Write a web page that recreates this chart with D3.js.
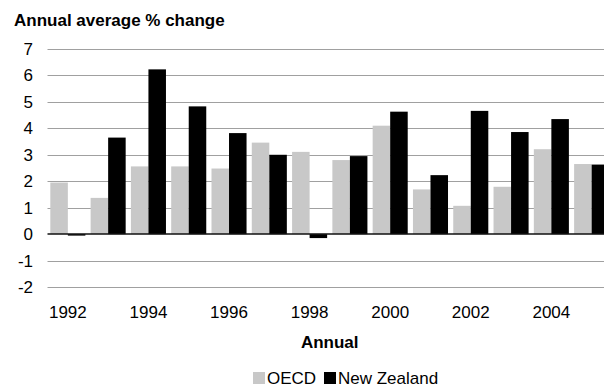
<!DOCTYPE html>
<html>
<head>
<meta charset="utf-8">
<script src="https://cdn.jsdelivr.net/npm/d3@7"></script>
<style>
  html, body { margin: 0; padding: 0; background: #fff; overflow: hidden; }
  svg { display: block; font-family: "Liberation Sans", Arial, sans-serif; }
</style>
</head>
<body>
<div id="chart"></div>
<script>
// Annual average % change, OECD vs New Zealand
const years = [1992, 1993, 1994, 1995, 1996, 1997, 1998, 1999, 2000, 2001, 2002, 2003, 2004, 2005];
const oecd = [1.95, 1.37, 2.56, 2.56, 2.48, 3.46, 3.11, 2.80, 4.10, 1.69, 1.07, 1.79, 3.21, 2.65];
const newZealand = [-0.05, 3.65, 6.23, 4.83, 3.82, 3.00, -0.15, 2.95, 4.63, 2.23, 4.66, 3.86, 4.35, 2.63];
const seriesNames = ["OECD", "New Zealand"];
const seriesColors = ["#c8c8c8", "#000000"];
const yTicks = [-2, -1, 0, 1, 2, 3, 4, 5, 6, 7];
const xTickYears = [1992, 1994, 1996, 1998, 2000, 2002, 2004];

const width = 604, height = 387;
const margin = { top: 49, right: -8, bottom: 100, left: 47.5 };
const innerW = width - margin.left - margin.right;
const innerH = height - margin.top - margin.bottom;

const svg = d3.select("#chart")
    .append("svg")
    .attr("width", width)
    .attr("height", height);

svg.append("text")
    .attr("x", 14)
    .attr("y", 26)
    .attr("font-size", 17)
    .attr("font-weight", "bold")
    .text("Annual average % change");

const g = svg.append("g")
    .attr("transform", `translate(${margin.left},${margin.top})`);

const x = d3.scaleBand()
    .domain(years)
    .range([0, innerW])
    .paddingInner(0.13)
    .paddingOuter(0.07);

const xSub = d3.scaleBand()
    .domain(seriesNames)
    .range([0, x.bandwidth()]);

const y = d3.scaleLinear()
    .domain([-2, 7])
    .range([innerH, 0]);

// gridlines
g.append("g")
    .attr("class", "grid")
    .selectAll("line")
    .data(yTicks.filter(d => d !== 0))
    .enter()
    .append("line")
    .attr("x1", 0)
    .attr("x2", innerW)
    .attr("y1", d => Math.round(y(d)) + 0.5)
    .attr("y2", d => Math.round(y(d)) + 0.5)
    .attr("stroke", "#a0a0a0")
    .attr("stroke-width", 1);

// y axis labels (plain hyphen for negatives)
const yAxis = g.append("g")
    .call(d3.axisLeft(y).tickValues(yTicks).tickFormat(d => String(d)).tickSize(0).tickPadding(14.5));
yAxis.select(".domain").remove();
yAxis.selectAll("text")
    .attr("font-size", 17)
    .attr("font-family", "Liberation Sans, Arial, sans-serif")
    .attr("fill", "#000");

const data = years.map((yr, i) => ({ year: yr, values: [oecd[i], newZealand[i]] }));

const groups = g.selectAll(".year")
    .data(data)
    .enter()
    .append("g")
    .attr("transform", d => `translate(${x(d.year)},0)`);

groups.selectAll("rect")
    .data(d => d.values.map((v, i) => ({ name: seriesNames[i], value: v, color: seriesColors[i] })))
    .enter()
    .append("rect")
    .attr("x", d => xSub(d.name))
    .attr("width", xSub.bandwidth())
    .attr("y", d => y(Math.max(0, d.value)))
    .attr("height", d => Math.max(1.5, Math.abs(y(d.value) - y(0))))
    .attr("fill", d => d.color);

// zero line
g.append("line")
    .attr("x1", 0)
    .attr("x2", innerW)
    .attr("y1", y(0))
    .attr("y2", y(0))
    .attr("stroke", "#111")
    .attr("stroke-width", 1.5);

// x axis labels
const xAxis = g.append("g")
    .attr("transform", `translate(0,${innerH})`)
    .call(d3.axisBottom(x).tickValues(xTickYears).tickSize(0).tickPadding(19));
xAxis.select(".domain").remove();
xAxis.selectAll("text")
    .attr("font-size", 17)
    .attr("font-family", "Liberation Sans, Arial, sans-serif")
    .attr("fill", "#000");

svg.append("text")
    .attr("x", margin.left + innerW / 2)
    .attr("y", 348)
    .attr("text-anchor", "middle")
    .attr("font-size", 17)
    .attr("font-weight", "bold")
    .text("Annual");

// legend
const legend = svg.append("g").attr("transform", "translate(253,372)");
const legendX = [0, 71];
seriesNames.forEach((name, i) => {
    legend.append("rect")
        .attr("x", legendX[i])
        .attr("y", 0)
        .attr("width", 12)
        .attr("height", 12)
        .attr("fill", seriesColors[i]);
    legend.append("text")
        .attr("x", legendX[i] + 14)
        .attr("y", 11.5)
        .attr("font-size", 17)
        .text(name);
});
</script>
</body>
</html>
